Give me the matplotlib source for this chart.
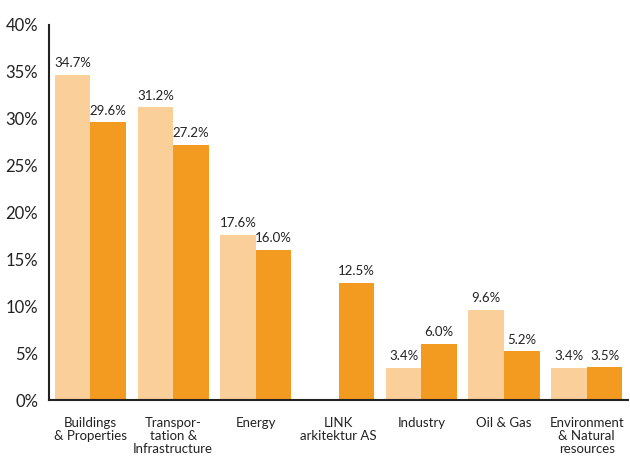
import numpy as np
import matplotlib
matplotlib.use('Agg')
import matplotlib.pyplot as plt

categories = ['Buildings\n& Properties', 'Transpor-\ntation &\nInfrastructure', 'Energy',
              'LINK\narkitektur AS', 'Industry', 'Oil & Gas', 'Environment\n& Natural\nresources']
series_light = [34.7, 31.2, 17.6, None, 3.4, 9.6, 3.4]
series_dark = [29.6, 27.2, 16.0, 12.5, 6.0, 5.2, 3.5]
yticks = [0, 5, 10, 15, 20, 25, 30, 35, 40]

light_color = '#FACF9A'
dark_color = '#F39A21'
text_color = '#222222'

plt.rcParams['font.family'] = ['Lato', 'DejaVu Sans']

fig = plt.figure(figsize=(6.30, 4.59), dpi=100)
ax = fig.add_axes([0.078, 0.1285, 0.919, 0.8175])

x = np.arange(len(categories))
w = 0.43

for i in range(len(categories)):
    if series_light[i] is not None:
        ax.bar(x[i] - w / 2, series_light[i], w, color=light_color)
        ax.text(x[i] - w / 2, series_light[i] + 0.6, '{:.1f}%'.format(series_light[i]),
                ha='center', va='bottom', fontsize=9.5, color=text_color)
    ax.bar(x[i] + w / 2, series_dark[i], w, color=dark_color)
    ax.text(x[i] + w / 2, series_dark[i] + 0.6, '{:.1f}%'.format(series_dark[i]),
            ha='center', va='bottom', fontsize=9.5, color=text_color)

ax.set_xlim(-0.5, 6.5)
ax.set_ylim(0, 40)
ax.set_yticks(yticks)
ax.set_yticklabels(['{}%'.format(t) for t in yticks], fontsize=12, color=text_color)
ax.set_xticks(x)
ax.set_xticklabels(categories, fontsize=9.5, color=text_color, linespacing=1.12, va='top')
ax.tick_params(axis='both', length=0)
ax.tick_params(axis='y', pad=8)
ax.tick_params(axis='x', pad=12)

for s in ['top', 'right']:
    ax.spines[s].set_visible(False)
for s in ['left', 'bottom']:
    ax.spines[s].set_linewidth(1.5)
    ax.spines[s].set_color(text_color)

fig.savefig('out.png', dpi=100)
